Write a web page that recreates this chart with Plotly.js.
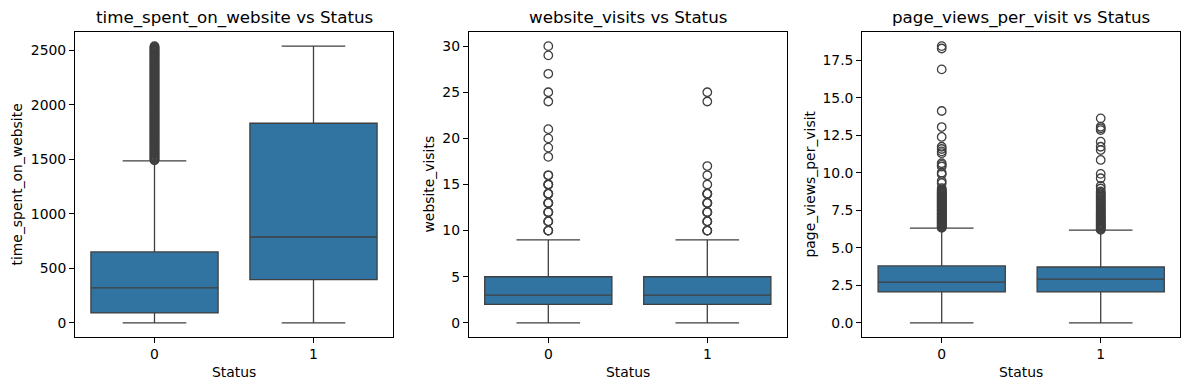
<!DOCTYPE html>
<html>
<head>
<meta charset="utf-8">
<script src="https://cdn.plot.ly/plotly-3.0.1.min.js"></script>
<style>html,body{margin:0;padding:0;background:#fff;}#chart{width:1189px;height:390px;}</style>
</head>
<body>
<div id="chart"></div>
<script>
// ---- data ----
const statusCats = [0, 1];
const tickLabels = ['0', '1'];

// time_spent_on_website
const timeQ1 = [91, 396];
const timeMedian = [320, 787];
const timeQ3 = [650, 1830];
const timeLower = [0, 0];
const timeUpper = [1485, 2537];
const timeOutliers0 = [1490, 1497, 1505, 1512, 1521, 1528, 1536, 1545, 1553, 1560, 1569, 1577, 1584, 1593, 1601, 1608, 1617, 1625, 1633, 1641, 1649, 1657, 1665, 1673, 1681, 1689, 1697, 1705, 1713, 1721, 1729, 1737, 1745, 1753, 1761, 1769, 1777, 1785, 1793, 1801, 1809, 1817, 1825, 1833, 1841, 1849, 1857, 1865, 1873, 1881, 1889, 1897, 1905, 1913, 1921, 1929, 1937, 1945, 1953, 1961, 1969, 1977, 1985, 1993, 2001, 2009, 2017, 2025, 2033, 2041, 2049, 2057, 2065, 2073, 2081, 2089, 2097, 2105, 2113, 2121, 2129, 2137, 2145, 2153, 2161, 2169, 2177, 2185, 2193, 2201, 2209, 2217, 2225, 2233, 2241, 2249, 2257, 2265, 2273, 2281, 2289, 2297, 2305, 2313, 2321, 2329, 2337, 2345, 2353, 2361, 2369, 2377, 2385, 2393, 2401, 2409, 2417, 2425, 2433, 2441, 2449, 2457, 2465, 2473, 2481, 2489, 2497, 2505, 2513, 2521, 2529, 2537];
const timeOutliers1 = [];

// website_visits
const visitsQ1 = [2, 2];
const visitsMedian = [3, 3];
const visitsQ3 = [5, 5];
const visitsLower = [0, 0];
const visitsUpper = [9, 9];
const visitsOutliers0 = [10, 10, 10, 11, 11, 11, 12, 12, 12, 13, 13, 13, 14, 14, 14, 15, 15, 15, 16, 16, 18, 19, 20, 21, 24, 25, 27, 29, 30];
const visitsOutliers1 = [10, 10, 10, 11, 11, 11, 12, 12, 12, 13, 13, 13, 14, 14, 14, 15, 16, 17, 24, 25];

// page_views_per_visit
const pvQ1 = [2.06, 2.06];
const pvMedian = [2.72, 2.92];
const pvQ3 = [3.79, 3.72];
const pvLower = [0, 0];
const pvUpper = [6.31, 6.18];
const pvOutliers0 = [6.33, 6.37, 6.42, 6.46, 6.51, 6.55, 6.6, 6.64, 6.69, 6.73, 6.78, 6.82, 6.87, 6.91, 6.96, 7.0, 7.05, 7.09, 7.14, 7.18, 7.23, 7.27, 7.32, 7.36, 7.41, 7.45, 7.5, 7.54, 7.59, 7.63, 7.68, 7.72, 7.77, 7.81, 7.86, 7.9, 7.95, 7.99, 8.04, 8.08, 8.13, 8.17, 8.22, 8.26, 8.31, 8.35, 8.4, 8.44, 8.49, 8.53, 8.58, 8.62, 8.67, 8.71, 8.76, 8.81, 8.88, 8.97, 9.3, 9.45, 9.9, 10.0, 10.41, 10.52, 10.63, 11.3, 11.42, 11.58, 11.73, 12.38, 13.04, 14.11, 16.88, 18.27, 18.43];
const pvOutliers1 = [6.2, 6.25, 6.31, 6.37, 6.42, 6.48, 6.55, 6.6, 6.66, 6.72, 6.79, 6.85, 6.92, 6.98, 7.05, 7.12, 7.18, 7.25, 7.33, 7.4, 7.47, 7.55, 7.62, 7.7, 7.78, 7.86, 7.94, 8.02, 8.1, 8.18, 8.26, 8.34, 8.42, 8.5, 8.58, 8.66, 8.75, 8.95, 9.12, 9.63, 9.92, 10.85, 11.51, 11.73, 12.07, 12.84, 12.95, 13.06, 13.62];

const titles = ['time_spent_on_website vs Status', 'website_visits vs Status', 'page_views_per_visit vs Status'];
const yLabels = ['time_spent_on_website', 'website_visits', 'page_views_per_visit'];

// ---- styles ----
const boxFill = '#3274a1';
const lineCol = '#3f3f3f';
const fontFam = 'DejaVu Sans, sans-serif';
const tickSize = 13.9;
const titleSize = 16.7;

function boxTrace(q1, med, q3, lo, hi, ax) {
  return {
    type: 'box', x: statusCats, q1: q1, median: med, q3: q3,
    lowerfence: lo, upperfence: hi,
    width: 0.8, whiskerwidth: 0.5, boxpoints: false,
    fillcolor: boxFill, line: {color: lineCol, width: 1.3},
    xaxis: 'x' + ax, yaxis: 'y' + ax, showlegend: false, hoverinfo: 'skip'
  };
}
function outTrace(vals, cat, ax) {
  return {
    type: 'scatter', mode: 'markers',
    x: vals.map(() => cat), y: vals,
    marker: {symbol: 'circle-open', size: 8.5, color: lineCol, line: {width: 1.3, color: lineCol}},
    xaxis: 'x' + ax, yaxis: 'y' + ax, showlegend: false, hoverinfo: 'skip'
  };
}

const data = [
  boxTrace(timeQ1, timeMedian, timeQ3, timeLower, timeUpper, ''),
  outTrace(timeOutliers0, statusCats[0], ''),
  outTrace(timeOutliers1, statusCats[1], ''),
  boxTrace(visitsQ1, visitsMedian, visitsQ3, visitsLower, visitsUpper, '2'),
  outTrace(visitsOutliers0, statusCats[0], '2'),
  outTrace(visitsOutliers1, statusCats[1], '2'),
  boxTrace(pvQ1, pvMedian, pvQ3, pvLower, pvUpper, '3'),
  outTrace(pvOutliers0, statusCats[0], '3'),
  outTrace(pvOutliers1, statusCats[1], '3')
];

const W = 1189, H = 390;
const xDomPx = [[75, 393], [468.8, 786.8], [862.2, 1180.2]];
const yDom = [1 - 336.7 / H, 1 - 32.3 / H];

function xax(i) {
  return {
    domain: [xDomPx[i][0] / W, xDomPx[i][1] / W], range: [-0.5, 1.5],
    tickvals: statusCats, ticktext: tickLabels,
    showline: true, mirror: true, linecolor: '#000', linewidth: 1,
    ticks: 'outside', ticklen: 5, tickwidth: 1, tickcolor: '#000',
    showgrid: false, zeroline: false, fixedrange: true,
    tickfont: {family: fontFam, size: tickSize, color: '#000'},
    anchor: i === 0 ? 'y' : 'y' + (i + 1)
  };
}
function yax(i, range, dtick, fmt) {
  return {
    domain: yDom, range: range, dtick: dtick, tick0: 0, tickformat: fmt,
    showline: true, mirror: true, linecolor: '#000', linewidth: 1,
    ticks: 'outside', ticklen: 5, tickwidth: 1, tickcolor: '#000',
    showgrid: false, zeroline: false, fixedrange: true,
    tickfont: {family: fontFam, size: tickSize, color: '#000'},
    anchor: i === 0 ? 'x' : 'x' + (i + 1)
  };
}

const annotations = [];
const yLabelX = [16, 428, 809];
for (let i = 0; i < 3; i++) {
  const cx = (xDomPx[i][0] + xDomPx[i][1]) / 2 / W;
  annotations.push({text: titles[i], xref: 'paper', yref: 'paper', x: cx, y: 1 - 17.5 / H,
    xanchor: 'center', yanchor: 'middle', showarrow: false,
    font: {family: fontFam, size: titleSize, color: '#000'}});
  annotations.push({text: 'Status', xref: 'paper', yref: 'paper', x: cx, y: 1 - 372.3 / H,
    xanchor: 'center', yanchor: 'middle', showarrow: false,
    font: {family: fontFam, size: tickSize, color: '#000'}});
  annotations.push({text: yLabels[i], xref: 'paper', yref: 'paper', x: yLabelX[i] / W, y: (yDom[0] + yDom[1]) / 2,
    xanchor: 'center', yanchor: 'middle', showarrow: false, textangle: -90,
    font: {family: fontFam, size: tickSize, color: '#000'}});
}

const layout = {
  width: W, height: H, margin: {l: 0, r: 0, t: 0, b: 0},
  paper_bgcolor: '#fff', plot_bgcolor: '#fff', showlegend: false,
  xaxis: xax(0), xaxis2: xax(1), xaxis3: xax(2),
  yaxis: yax(0, [-127, 2664], 500, 'd'),
  yaxis2: yax(1, [-1.5, 31.5], 5, 'd'),
  yaxis3: yax(2, [-0.92, 19.35], 2.5, '.1f'),
  annotations: annotations
};

Plotly.newPlot('chart', data, layout, {staticPlot: true, displayModeBar: false});
</script>
</body>
</html>
